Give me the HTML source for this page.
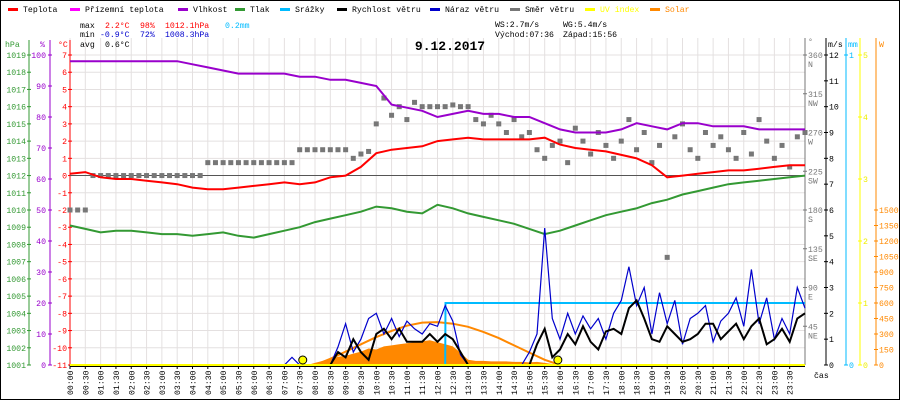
<!DOCTYPE html>
<html><head><meta charset="utf-8"><style>
body{margin:0;background:#fff}
svg{display:block;font-family:"Liberation Mono",monospace;font-size:8.2px}
</style></head><body>
<svg id="c" width="900" height="400" viewBox="0 0 900 400"></svg>
<script>
const temps=[0.1,0.2,-0.1,-0.2,-0.2,-0.3,-0.4,-0.5,-0.7,-0.8,-0.8,-0.7,-0.6,-0.5,-0.4,-0.5,-0.4,-0.1,0.0,0.5,1.3,1.5,1.6,1.7,2.0,2.1,2.2,2.1,2.1,2.1,2.1,2.2,1.8,1.6,1.5,1.4,1.2,1.0,0.6,-0.1,0.0,0.1,0.2,0.3,0.3,0.4,0.5,0.6,0.6];
const humidity=[98,98,98,98,98,98,98,98,97,96,95,94,94,94,94,93,93,92,92,91,90,84,83,82,80,81,82,81,81,80,80,78,76,75,75,75,76,78,77,76,78,78,77,77,77,76,76,76,76];
const pressure=[1009.1,1008.9,1008.7,1008.8,1008.8,1008.7,1008.6,1008.6,1008.5,1008.6,1008.7,1008.5,1008.4,1008.6,1008.8,1009.0,1009.3,1009.5,1009.7,1009.9,1010.2,1010.1,1009.9,1009.8,1010.3,1010.1,1009.8,1009.6,1009.4,1009.2,1008.9,1008.6,1008.8,1009.1,1009.4,1009.7,1009.9,1010.1,1010.4,1010.6,1010.9,1011.1,1011.3,1011.5,1011.6,1011.7,1011.8,1011.9,1012.0];
const windDir=[180,180,180,220,220,220,220,220,220,220,220,220,220,220,220,220,220,220,235,235,235,235,235,235,235,235,235,235,235,235,250,250,250,250,250,250,250,
240,245,248,280,310,290,300,285,305,300,300,300,300,302,300,300,285,280,290,280,270,285,265,270,250,240,255,260,235,275,260,245,270,255,240,260,285,250,270,235,255,125,265,280,250,240,270,255,265,250,240,270,245,285,260,240,255,230,265,270];
const windSpeed=[0,0,0,0,0,0,0,0,0,0,0,0,0,0,0,0,0,0,0,0,0,0,0,0,0,0,0,0,0,0,0,0,0,0,0,
0.5,0.3,1.0,0.5,0.2,1.2,1.4,1.0,1.4,0.9,0.9,0.9,1.2,0.9,1.2,1.0,0.5,0,0,0,0,0,0,0,0,0,
0.8,1.4,0.3,0.6,1.2,0.8,1.5,0.9,0.6,1.3,1.4,1.2,2.2,2.5,1.8,1.0,0.9,1.5,1.2,0.9,1.0,1.2,1.6,1.6,1.0,1.3,1.6,1.0,1.5,1.8,0.8,1.0,1.4,0.9,1.8,2.0];
const windGust=[0,0,0,0,0,0,0,0,0,0,0,0,0,0,0,0,0,0,0,0,0,0,0,0,0,0,0,0,0,0.3,0,0,0,0,0,
0.7,1.6,0.5,1.0,1.8,2.0,1.2,1.8,1.1,1.7,1.4,1.2,1.6,1.5,2.3,1.7,0.4,0,0,0,0,0,0,0,0,0.5,
1.2,5.3,1.8,1.0,2.0,1.2,1.9,1.4,1.8,1.0,2.0,2.5,3.8,2.3,3.0,1.2,2.8,1.6,2.5,0.8,1.8,2.0,2.3,0.9,1.7,2.0,2.6,1.5,3.7,1.6,2.6,1.0,1.8,1.2,3.0,2.2];
const solar=[0,0,0,0,0,0,0,0,0,0,0,0,0,0,0,0,0,0,0,0,0,0,0,0,0,0,0,0,0,0,0,0,
20,40,60,80,90,110,130,160,150,180,190,200,210,220,230,240,220,200,180,120,50,40,40,35,35,35,30,30,25,30,20,10,
0,0,0,0,0,0,0,0,0,0,0,0,0,0,0,0,0,0,0,0,0,0,0,0,0,0,0,0,0,0,0,0,0];
const solarTheoryTimes=[8,8.5,9,9.5,10,10.5,11,11.5,12,12.5,13,13.5,14,14.5,15,15.5,16];
const solarTheory=[0,60,130,200,270,330,380,410,415,400,370,320,260,190,120,50,0];
const rainTimes=[0,12.25,12.26,24];
const rain=[0,0,0.2,0.2];
const sunEvents=[7.6,15.93];

const NS='http://www.w3.org/2000/svg';
const svg=document.getElementById('c');
function el(t,a,txt){const e=document.createElementNS(NS,t);for(const k in a)e.setAttribute(k,a[k]);if(txt!==undefined)e.textContent=txt;svg.appendChild(e);return e;}
const X=h=>70+h*735/24;
const yT=c=>55+(7-c)*310/18;
const yH=h=>365-h*3.1;
const yP=p=>55+(1019-p)*310/18;
const yD=d=>365-d*310/360;
const yWs=w=>365-w*310/12;
const yMM=m=>365-m*310;
const ySol=w=>365-w*310/3000;

let e;
e=el('rect',{x:0.5,y:0.5,width:899,height:399,fill:'#fff',stroke:'#000'});

for(let i=0;i<=48;i++){e=el('line',{x1:X(i/2),x2:X(i/2),y1:38,y2:365,stroke:'#e4e0e0'});
}
for(let c=-10;c<=7;c++){e=el('line',{x1:70,x2:805,y1:yT(c),y2:yT(c),stroke:'#e4e0e0'});
}
const leg=[['Teplota','#f00',8],['Přízemní teplota','#f0f',70],['Vlhkost','#90c',178],['Tlak','#393',235],['Srážky','#0bf',280],['Rychlost větru','#000',337],['Náraz větru','#00c',430],['Směr větru','#777',510],['UV index','#ff0',585],['Solar','#f80',650]];
leg.forEach(l=>{e=el('rect',{x:l[2],y:8,width:10,height:3,fill:l[1]});
e=el('text',{x:l[2]+15,y:12,fill:(l[0]=='UV index'||l[0]=='Solar')?l[1]:'#000'},l[0]);});
const st=[[80,28,'max','#000'],[105,28,'2.2°C','#f00'],[140,28,'98%','#f00'],[165,28,'1012.1hPa','#f00'],[225,28,'0.2mm','#0bf'],
[80,37,'min','#000'],[100,37,'-0.9°C','#00c'],[140,37,'72%','#00c'],[165,37,'1008.3hPa','#00c'],[80,47,'avg','#000'],[105,47,'0.6°C','#000'],
[495,27,'WS:2.7m/s','#000'],[563,27,'WG:5.4m/s','#000'],[495,37,'Východ:07:36','#000'],[563,37,'Západ:15:56','#000']];
st.forEach(s=>{e=el('text',{x:s[0],y:s[1],fill:s[3]},s[2]);});
e=el('text',{x:450,y:50,'text-anchor':'middle','font-weight':'bold','font-size':'13'},'9.12.2017');
function axisLine(x,y1,y2,c,n){const a=el('line',{x1:x,x2:x,y1:y1,y2:y2,stroke:c});}
axisLine(29,40,365,'#393','pressure-axis');axisLine(50,40,365,'#90c','humidity-axis');axisLine(70,40,365,'#f00','temp-axis');
e=el('text',{x:5,y:47,fill:'#393'},'hPa');
e=el('text',{x:40,y:47,fill:'#90c'},'%');
e=el('text',{x:58,y:47,fill:'#f00'},'°C');
for(let p=1001;p<=1019;p++){const y=yP(p);el('line',{x1:27,x2:31,y1:y,y2:y,stroke:'#393'});
e=el('text',{x:26,y:y+3,'text-anchor':'end',fill:'#393'},p);}
for(let h=0;h<=100;h+=10){const y=yH(h);el('line',{x1:48,x2:52,y1:y,y2:y,stroke:'#90c'});
e=el('text',{x:46,y:y+3,'text-anchor':'end',fill:'#90c'},h);}
for(let c=-11;c<=7;c++){const y=yT(c);el('line',{x1:68,x2:72,y1:y,y2:y,stroke:'#f00'});
e=el('text',{x:67,y:y+3,'text-anchor':'end',fill:'#f00'},c);}
axisLine(805,38,365,'#777','direction-axis');axisLine(826,38,365,'#000','wind-axis');axisLine(846,38,365,'#0bf','rain-axis');axisLine(860,38,365,'#ff0','uv-axis');axisLine(876,38,365,'#f80','solar-axis');
e=el('text',{x:808,y:44,fill:'#777'},'°');
e=el('text',{x:828,y:47,fill:'#000'},'m/s');
e=el('text',{x:848,y:47,fill:'#0bf'},'mm');
e=el('text',{x:879,y:47,fill:'#f80'},'W');
const dirs=['NE','E','SE','S','SW','W','NW','N'];
for(let i=1;i<=8;i++){const d=i*45,y=yD(d);el('line',{x1:803,x2:807,y1:y,y2:y,stroke:'#777'});
e=el('text',{x:808,y:y+3,fill:'#777'},d);
e=el('text',{x:808,y:y+12,fill:'#777'},dirs[i-1]);}
for(let w=0;w<=12;w++){const y=yWs(w);el('line',{x1:824,x2:828,y1:y,y2:y,stroke:'#000'});
e=el('text',{x:829,y:y+3},w);}
[0,1].forEach(m=>{const y=yMM(m);el('line',{x1:844,x2:848,y1:y,y2:y,stroke:'#0bf'});e=el('text',{x:849,y:y+3,fill:'#0bf'},m);});
for(let u=0;u<=5;u++){const y=365-u*62;el('line',{x1:858,x2:862,y1:y,y2:y,stroke:'#ff0'});e=el('text',{x:863,y:y+3,fill:'#ee0'},u);}
for(let w=0;w<=1500;w+=150){const y=ySol(w);el('line',{x1:874,x2:878,y1:y,y2:y,stroke:'#f80'});e=el('text',{x:879,y:y+3,fill:'#f80'},w);}
for(let i=0;i<48;i++){const x=X(i/2);el('line',{x1:x,x2:x,y1:365,y2:369,stroke:'#000'});
const hh=String(Math.floor(i/2)).padStart(2,'0'),mm=i%2?'30':'00';
e=el('text',{x:0,y:0,transform:`translate(${x+3},395) rotate(-90)`},hh+':'+mm);}
e=el('text',{x:814,y:378},'čas');
function poly(xs,ys,c,w,n){const pts=xs.map((x,i)=>x.toFixed(1)+','+ys[i].toFixed(1)).join(' ');const p=el('polyline',{points:pts,fill:'none',stroke:c,'stroke-width':w});return p;}
const t30=temps.map((_,i)=>X(i/2));
const t15=windSpeed.map((_,i)=>X(i/4));
{const pts=[X(0)+','+365].concat(solar.map((v,i)=>X(i/4).toFixed(1)+','+ySol(v).toFixed(1))).concat([X(24)+','+365]);
e=el('polygon',{points:pts.join(' '),fill:'#f80'});}
poly(solarTheoryTimes.map(X),solarTheory.map(ySol),'#f80',2,'solar-theory-line');
e=el('line',{x1:70,x2:805,y1:yT(0),y2:yT(0),stroke:'#555'});
windDir.forEach((d,i)=>{if(d==null)return;const r=el('rect',{x:X(i/4)-2.5,y:yD(d)-2.5,width:5,height:5,fill:'#777'});});
poly(t30,pressure.map(yP),'#393',2,'pressure-line');
poly(t30,humidity.map(yH),'#90c',2,'humidity-line');
poly(t30,temps.map(yT),'#f00',2,'temperature-line');
poly(rainTimes.map(X),rain.map(yMM),'#0bf',2,'rain-line');
poly(t15,windGust.map(yWs),'#00c',1.2,'gust-line');
poly(t15,windSpeed.map(yWs),'#000',2,'wind-line');
e=el('line',{x1:70,x2:805,y1:365,y2:365,stroke:'#ff0','stroke-width':2});
e=el('line',{x1:70,x2:805,y1:366.5,y2:366.5,stroke:'#000'});
sunEvents.forEach(t=>{const c=el('circle',{cx:X(t),cy:360,r:4,fill:'#ff0',stroke:'#000'});});
</script>
</body></html>
